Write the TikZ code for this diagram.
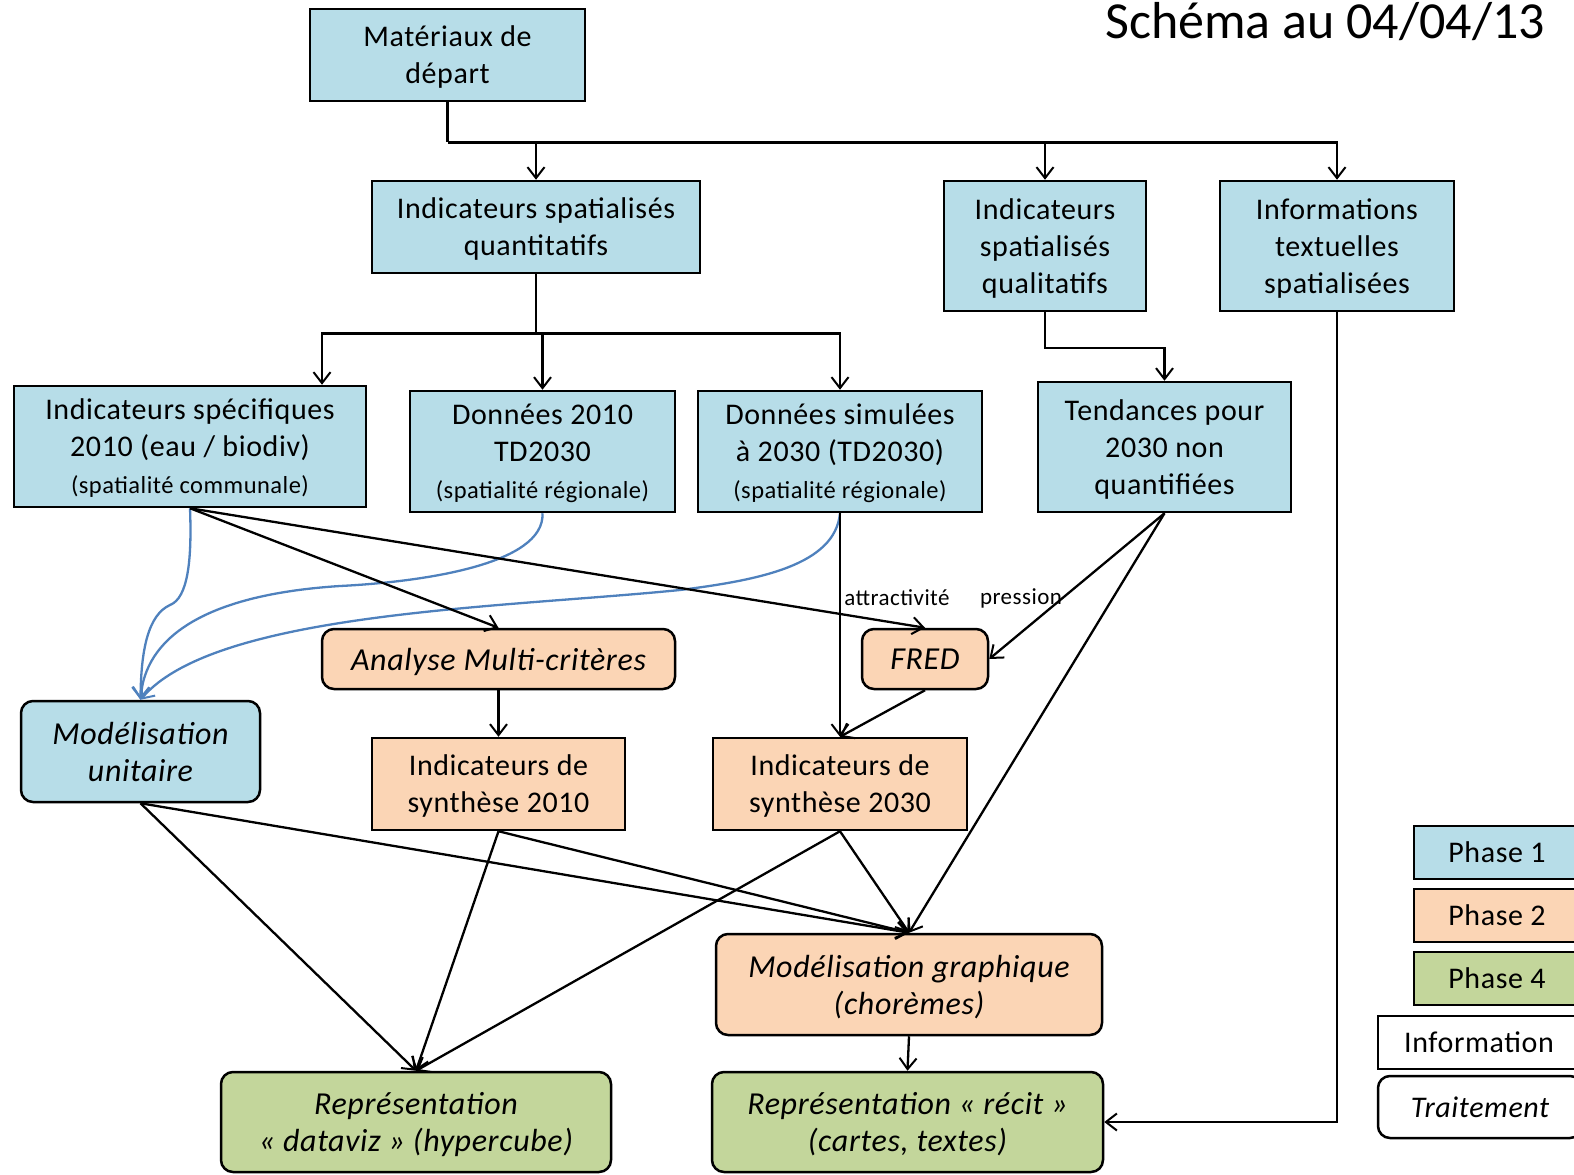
\documentclass[tikz,border=0pt]{standalone}
\usepackage{fontspec}
\setmainfont{Carlito}[LetterSpace=2]
\newfontfamily\titlefont{Carlito}
\usetikzlibrary{arrows.meta}
\definecolor{pblue}{HTML}{B7DDE8}
\definecolor{porange}{HTML}{FBD5B5}
\definecolor{pgreen}{HTML}{C3D69B}
\definecolor{cblue}{HTML}{4F81BD}
\begin{document}
\begin{tikzpicture}[x=1pt,y=-1pt,
  box/.style={draw=black, line width=2.5pt, align=center, inner sep=0pt, text depth=0pt, font=\fontsize{30}{37}\selectfont},
  proc/.style={box, rounded corners=12pt, font=\fontsize{32}{37}\selectfont\itshape},
  bl/.style={fill=pblue},
  og/.style={fill=porange},
  gr/.style={fill=pgreen},
  sz/.style 2 args={minimum width=#1pt, minimum height=#2pt},
  arr/.style={line width=2.3pt, -{Straight Barb[length=11pt,width=17pt,line width=2pt]}},
  ln/.style={line width=2.8pt},
  barr/.style={line width=2.3pt, draw=cblue, -{Straight Barb[length=11pt,width=17pt,line width=2pt]}},
  small/.style={font=\fontsize{23}{26}\selectfont, inner sep=0pt}
]
\useasboundingbox (0,0) rectangle (1574,1175);
\clip (0,0) rectangle (1574,1175);

% title
\node[anchor=base east, inner sep=0pt, font=\titlefont\fontsize{52}{60}\selectfont] (title) at (1545,38) {Schéma au 04/04/13};

% information boxes
\node[box,bl,sz={275}{92}] (mat) at (447.5,55) {Matériaux de\\départ};
\node[box,bl,sz={328}{92}] (isq) at (536,227) {Indicateurs spatialisés\\quantitatifs};
\node[box,bl,sz={202}{130}] (isql) at (1045,246) {Indicateurs\\spatialisés\\qualitatifs};
\node[box,bl,sz={234}{130}] (its) at (1337,246) {Informations\\textuelles\\spatialisées};
\node[box,bl,sz={352}{121}] (ispec) at (190,446.5) {Indicateurs spécifiques\\2010 (eau / biodiv)\\{\fontsize{24.5}{26}\selectfont (spatialité communale)}};
\node[box,bl,sz={265}{121}] (d2010) at (542.5,451.5) {Données 2010\\TD2030\\{\fontsize{24.5}{26}\selectfont (spatialité régionale)}};
\node[box,bl,sz={284}{121}] (dsim) at (840,451.5) {Données simulées\\à 2030 (TD2030)\\{\fontsize{24.5}{26}\selectfont (spatialité régionale)}};
\node[box,bl,sz={253}{130}] (tend) at (1164.5,447) {Tendances pour\\2030 non\\quantifiées};
\node[box,og,sz={253}{92}] (is2010) at (498.5,784) {Indicateurs de\\synthèse 2010};
\node[box,og,sz={254}{92}] (is2030) at (840,784) {Indicateurs de\\synthèse 2030};

% processing boxes
\node[proc,bl,sz={239}{101}] (modu) at (140.5,751.5) {Modélisation\\unitaire};
\node[proc,og,sz={353}{60}] (amc) at (498.5,659) {Analyse Multi-critères};
\node[proc,og,sz={126}{60}] (fred) at (925,659) {FRED};
\node[proc,og,sz={386}{101}] (modg) at (909,984.5) {Modélisation graphique\\(chorèmes)};
\node[proc,gr,sz={390}{100}] (rdata) at (416,1122) {Représentation\\« dataviz » (hypercube)};
\node[proc,gr,sz={391}{100}] (rrecit) at (907.5,1122) {Représentation « récit »\\(cartes, textes)};

% legend
\node[box,bl,sz={166}{53}] (leg1) at (1497,852.5) {Phase 1};
\node[box,og,sz={166}{53}] (leg2) at (1497,915.5) {Phase 2};
\node[box,gr,sz={166}{53}] (leg4) at (1497,978.5) {Phase 4};
\node[box,fill=white,sz={202}{53}] (leginfo) at (1479,1042.5) {Information};
\node[proc,fill=white,sz={204}{62},font=\fontsize{30}{37}\selectfont\itshape] (legproc) at (1480,1107) {Traitement};

% labels
\node[small] (lattr) at (897,598) {attractivité};
\node[small] (lpress) at (1021,598) {pression};

% tree connectors
\coordinate (j1) at ([yshift=-40pt]mat.south);
\draw[ln] (mat.south) -- (j1);
\draw[ln] (j1) -| ([xshift=0pt]its.north |- j1);
\draw[arr] (j1) -| (isq.north);
\draw[arr] (j1) -| (isql.north);
\draw[arr] (j1) -| (its.north);

\coordinate (j2) at ([yshift=-59pt]isq.south);
\draw[ln] (isq.south) -- (j2);
\draw[ln] ([xshift=132pt]ispec.north |- j2) -- (dsim.north |- j2);
\draw[arr] (j2) -| ([xshift=132pt]ispec.north);
\draw[arr] (j2) -| (d2010.north);
\draw[arr] (j2) -| (dsim.north);

\draw[arr] (isql.south) -- ++(0,36) -| (tend.north);
\draw[arr] (its.south) |- (rrecit.east);

% blue curves
\draw[barr] (ispec.south) .. controls (192,560) and (188,598) .. (170,605) .. controls (148,615) and (141,650) .. (modu.north);
\draw[barr] (d2010.south) .. controls (545,565) and (420,582) .. (340,586) .. controls (200,595) and (145,640) .. (modu.north);
\draw[barr] (dsim.south) .. controls (835,565) and (760,580) .. (680,590) .. controls (500,608) and (215,612) .. (modu.north);

% straight arrows
\draw[arr] (ispec.south) -- (amc.north);
\draw[arr] (ispec.south) -- (fred.north);
\draw[arr] (dsim.south) -- (is2030.north);
\draw[arr] (tend.south) -- (fred.east);
\draw[arr] (tend.south) -- (modg.north);
\draw[arr] (amc.south) -- (is2010.north);
\draw[arr] (fred.south) -- (is2030.north);
\draw[arr] (modu.south) -- (rdata.north);
\draw[arr] (modu.south) -- (modg.north);
\draw[arr] (is2010.south) -- (rdata.north);
\draw[arr] (is2010.south) -- (modg.north);
\draw[arr] (is2030.south) -- (rdata.north);
\draw[arr] (is2030.south) -- (modg.north);
\draw[arr] (modg.south) -- (rrecit.north);
\end{tikzpicture}
\end{document}
